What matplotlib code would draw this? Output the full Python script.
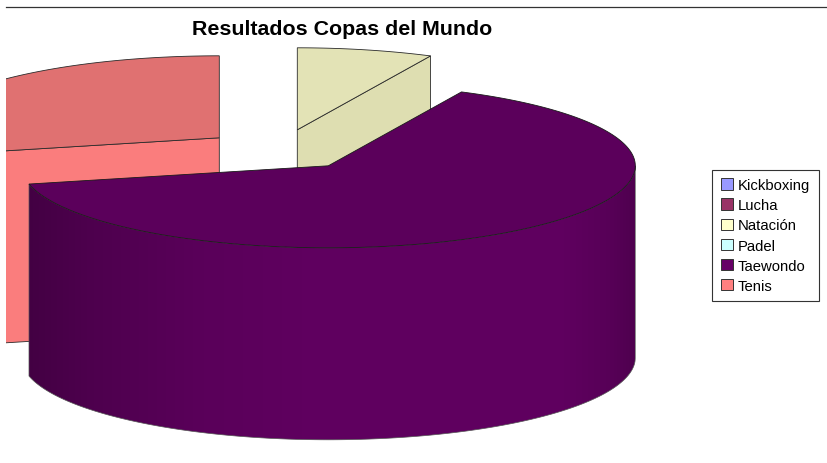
import numpy as np
import matplotlib
matplotlib.use("Agg")
import matplotlib.pyplot as plt
from matplotlib.patches import Patch, Polygon

plt.rcParams['font.family'] = ['Liberation Sans', 'DejaVu Sans']

# Data
categories = ['Kickboxing', 'Lucha', 'Natación', 'Padel', 'Taewondo', 'Tenis']
values = [0, 0, 1, 0, 9, 4]
colors = ['#9999ff', '#993366', '#ffffcc', '#ccffff', '#660066', '#ff8080']
title = 'Resultados Copas del Mundo'

# Pie geometry in pixels
rx, ry = 307, 82
depth = 192
apex = {'Natación': (298, 130), 'Taewondo': (329, 166), 'Tenis': (220, 138)}
line_col = '#2a2a2a'
XLIM = (0.7, 828.7)
YLIM = (463.2, -0.8)


def shade(col, f):
    rgb = np.array(matplotlib.colors.to_rgb(col))
    return tuple(rgb * f)


def arc(center, t0, t1, n=200):
    t = np.radians(np.linspace(t0, t1, n))
    return np.column_stack([center[0] + rx * np.cos(t), center[1] - ry * np.sin(t)])


fig = plt.figure(figsize=(8.28, 4.64), dpi=100)
ax = fig.add_axes([0, 0, 1, 1])
ax.set_xlim(*XLIM)
ax.set_ylim(*YLIM)
ax.axis('off')

# Slices run clockwise from 12 o'clock
angles = {}
start = 90.0
total = sum(values)
for name, v in zip(categories, values):
    end = start - 360.0 * v / total
    angles[name] = (start, end)
    start = end

clip = Polygon([(7, 7), (840, 7), (840, 470), (7, 470)], transform=ax.transData)


def add_poly(pts, face, lw=0.6, z=2, edge=line_col):
    p = Polygon(pts, closed=True, facecolor=face, edgecolor=edge, linewidth=lw, zorder=z)
    ax.add_patch(p)
    p.set_clip_path(clip)
    return p


down = np.array([0, depth])

# Back slices: inner wall plus top face
for name, wall_f, top_f, wall_end in [('Tenis', 0.98, 0.88, 0), ('Natación', 0.87, 0.89, -1)]:
    col = colors[categories.index(name)]
    t0, t1 = angles[name]
    c = np.array(apex[name], dtype=float)
    rim = arc(c, t0, t1)
    edge_pt = rim[wall_end]
    add_poly([c, edge_pt, edge_pt + down, c + down], shade(col, wall_f), z=2)
    add_poly(np.vstack([c, rim]), shade(col, top_f), z=3)

# Front slice: outer wall with gradient, then top face
name = 'Taewondo'
col = colors[categories.index(name)]
t0, t1 = angles[name]
c = np.array(apex[name], dtype=float)
front = arc(c, t1, 0)
wall_pts = np.vstack([front, (front + down)[::-1]])
wall = Polygon(wall_pts, closed=True, facecolor='none', edgecolor='#555555', linewidth=0.5, zorder=5)
ax.add_patch(wall)
stops_x = [29, 90, 200, 320, 560, 610, 636]
stops_f = [0.66, 0.76, 0.88, 0.94, 0.94, 0.86, 0.78]
grad_x = np.linspace(29, 636, 300)
grad_f = np.interp(grad_x, stops_x, stops_f)
grad = np.array([[shade(col, f) for f in grad_f]])
im = ax.imshow(grad, extent=(29, 636, 440, 165), aspect='auto', zorder=4, interpolation='bilinear')
im.set_clip_path(Polygon(wall_pts, closed=True, transform=ax.transData))
ax.set_xlim(*XLIM)
ax.set_ylim(*YLIM)
add_poly(np.vstack([c, arc(c, t0, t1)]), shade(col, 0.89), z=6, edge='#1a1a1a')

# Top rule
ax.plot([7, 840], [7, 7], color='#333333', lw=0.9, zorder=7, clip_on=True)

ax.text(342.5, 29, title, ha='center', va='center', fontsize=15.4, fontweight='bold', color='black', zorder=8)

# Legend
handles = [Patch(facecolor=col_, edgecolor='#333333', linewidth=0.7, label=lab)
           for col_, lab in zip(colors, categories)]
leg = ax.legend(handles=handles, loc='upper left', bbox_to_anchor=(712 / 828, 1 - 170.5 / 464),
                bbox_transform=ax.transAxes, fontsize=10.75, frameon=True, fancybox=False,
                framealpha=1, edgecolor='#333333', borderpad=0.58, labelspacing=0.41,
                handlelength=0.8, handleheight=0.8, handletextpad=0.35, borderaxespad=0)
leg.get_frame().set_linewidth(0.8)
leg.set_zorder(9)

fig.savefig('out.png', dpi=100)
